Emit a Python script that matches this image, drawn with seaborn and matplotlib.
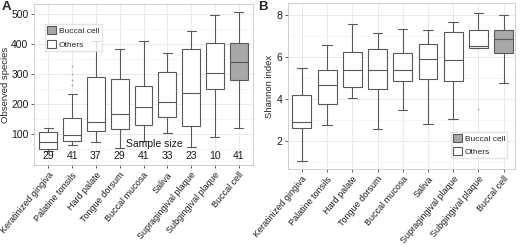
import numpy as np
import pandas as pd
import matplotlib.pyplot as plt
import seaborn as sns

sites = ['Keratinized gingiva', 'Palatine tonsils', 'Hard palate', 'Tongue dorsum',
         'Buccal mucosa', 'Saliva', 'Supragingival plaque', 'Subgingival plaque', 'Buccal cell']
sample_size = [29, 41, 37, 29, 41, 33, 23, 10, 41]

# five-number summaries: min, q1, median, q3, max
obs_min = [45, 62, 74, 53, 78, 103, 58, 90, 120]
obs_q1 = [50, 77, 110, 118, 130, 156, 127, 250, 280]
obs_med = [74, 97, 139, 167, 191, 206, 238, 302, 339]
obs_q3 = [106, 152, 289, 282, 260, 306, 382, 402, 402]
obs_max = [119, 232, 411, 382, 411, 369, 444, 496, 507]
obs_out_site = ['Palatine tonsils', 'Palatine tonsils', 'Palatine tonsils', 'Palatine tonsils']
obs_out = [325, 300, 280, 262]

sha_min = [1.05, 2.79, 4.06, 2.59, 3.50, 2.84, 3.08, 6.42, 4.79]
sha_q1 = [2.63, 3.78, 4.57, 4.48, 4.87, 4.95, 4.89, 6.42, 6.18]
sha_med = [2.94, 4.68, 5.39, 5.39, 5.39, 5.91, 5.87, 6.55, 6.85]
sha_q3 = [4.21, 5.39, 6.26, 6.39, 6.18, 6.61, 7.18, 7.29, 7.29]
sha_max = [5.50, 6.58, 7.56, 7.13, 7.32, 7.29, 7.65, 8.08, 8.00]
sha_out_site = ['Subgingival plaque']
sha_out = [3.55]

groups = ['Buccal cell', 'Others']
pal = {'Buccal cell': '#a8a8a8', 'Others': 'white'}


def long_frame(mins, q1s, meds, q3s, maxs):
    rows = []
    for s, a, b, c, d, e in zip(sites, mins, q1s, meds, q3s, maxs):
        g = 'Buccal cell' if s == 'Buccal cell' else 'Others'
        for v in (a, b, c, d, e):
            rows.append((s, g, v))
    return pd.DataFrame(rows, columns=['site', 'group', 'value'])


df_obs = long_frame(obs_min, obs_q1, obs_med, obs_q3, obs_max)
df_sha = long_frame(sha_min, sha_q1, sha_med, sha_q3, sha_max)

sns.set_style('white')
plt.rcParams['font.family'] = ['Liberation Sans', 'DejaVu Sans']

fig = plt.figure(figsize=(5.2, 2.47), dpi=100)
axA = fig.add_axes([34 / 520, 1 - 165 / 247, (253 - 34) / 520, (165 - 4) / 247])
axB = fig.add_axes([288 / 520, 1 - 169 / 247, (515 - 288) / 520, (169 - 3) / 247])


def draw(ax, df, out_site, out_vals):
    sns.boxplot(data=df, x='site', y='value', hue='group', order=sites, hue_order=groups,
                palette=pal, dodge=False, width=0.75, whis=(0, 100), linecolor='#585858',
                linewidth=0.8, ax=ax)
    sns.stripplot(x=out_site, y=out_vals, order=sites, jitter=False, color='#9a9a9a',
                  size=1.2, ax=ax, legend=False)
    ax.set_axisbelow(True)
    ax.grid(True, which='major', color='#e6e6e6', linewidth=0.6)
    ax.grid(True, which='minor', axis='y', color='#f3f3f3', linewidth=0.5)
    for sp in ax.spines.values():
        sp.set_color('#cfcfcf')
        sp.set_linewidth(0.7)
    ax.tick_params(axis='both', length=2.5, width=0.6, color='#444444', labelsize=7.5,
                   pad=1.5, labelcolor='#1a1a1a', direction='out', bottom=True, left=True)
    ax.set_xlabel('')
    ax.set_xticks(range(len(sites)))
    ax.set_xticklabels(sites, rotation=50, ha='right', rotation_mode='anchor', fontsize=6.5)


leg_kw = dict(fontsize=6, frameon=True, handlelength=1.1, handleheight=1.1,
              labelspacing=0.55, borderpad=0.25, handletextpad=0.35,
              edgecolor='#dddddd', fancybox=False)

draw(axA, df_obs, obs_out_site, obs_out)
axA.set_xlim(-0.6, 8.6)
axA.set_ylim(-3, 533)
axA.set_yticks([100, 200, 300, 400, 500])
axA.set_yticks([50, 150, 250, 350, 450], minor=True)
axA.tick_params(axis='y', which='minor', length=0)
axA.set_ylabel('Observed species', fontsize=6.8, labelpad=1)
for i, n in enumerate(sample_size):
    axA.text(i, 27, str(n), ha='center', va='center', fontsize=7.5, color='#1a1a1a')
axA.text(4.44, 67, 'Sample size', ha='center', va='center', fontsize=7.5, color='#1a1a1a')
axA.legend(loc='upper left', bbox_to_anchor=(0.03, 0.9), **leg_kw)

draw(axB, df_sha, sha_out_site, sha_out)
axB.set_xlim(-0.55, 8.45)
axB.set_ylim(0.69, 8.57)
axB.set_yticks([2, 4, 6, 8])
axB.set_yticks([1, 3, 5, 7], minor=True)
axB.tick_params(axis='y', which='minor', length=0)
axB.set_ylabel('Shannon index', fontsize=6.8, labelpad=2)
axB.legend(loc='lower right', bbox_to_anchor=(0.985, 0.04), **leg_kw)

fig.text(2 / 520, 1 - 0.5 / 247, 'A', fontsize=9.5, fontweight='bold', va='top', ha='left')
fig.text(258 / 520, 1 - 0.5 / 247, 'B', fontsize=9.5, fontweight='bold', va='top', ha='left')

fig.savefig('out.png', dpi=100)
